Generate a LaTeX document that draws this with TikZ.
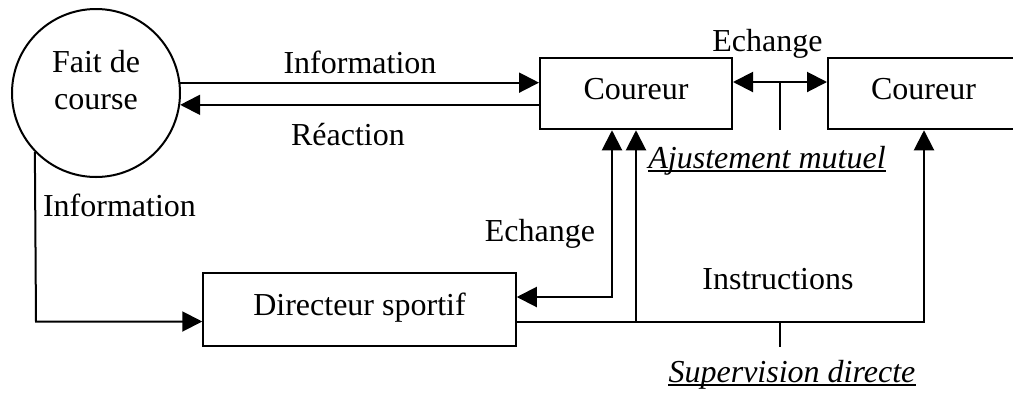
\documentclass[tikz,border=0pt]{standalone}
\usepackage{fontspec}
\setmainfont{Liberation Serif}
\usetikzlibrary{arrows.meta}
\tikzset{
  every node/.style={font=\fontsize{32}{37}\selectfont},
  ln/.style={line width=2pt},
  arr/.style={ln,-{Triangle[length=20pt,width=20pt]}},
  arrs/.style={ln,{Triangle[length=20pt,width=20pt]}-{Triangle[length=20pt,width=20pt]}},
  boxn/.style={draw,ln,rectangle,inner sep=0pt,text height=22pt,text depth=11pt},
  txt/.style={anchor=base,inner sep=0pt},
  ul/.style={line width=1.8pt}
}
\begin{document}
\begin{tikzpicture}[x=1pt,y=-1pt]
\useasboundingbox (0,0) rectangle (1013,392);
\clip (0,0) rectangle (1013,392);
% nodes
\node[draw,ln,circle,minimum size=168pt,inner sep=0pt] (fait) at (96,93) {};
\node[txt] (fait1) at (96,72) {Fait de};
\node[txt] (fait2) at (96,109) {course};
\node[boxn,minimum width=192pt,minimum height=71.5pt] (c1) at (636,93.5) {Coureur};
\node[boxn,minimum width=191pt,minimum height=71.5pt] (c2) at (923.5,93.5) {Coureur};
\node[boxn,minimum width=312.5pt,minimum height=72.5pt] (dir) at (359.5,309.5) {Directeur sportif};
% coordinates
\coordinate (e1) at (780,82);
\coordinate (m1) at (612,297);
\coordinate (s1) at (636,321.5);
\coordinate (s2) at (924,321.5);
\coordinate (t1) at (780,321.5);
\coordinate (t2) at (780,347);
\coordinate (l1) at (36,321.5);
% connectors
\draw[arr] (fait.7.5) -- (fait.7.5 -| c1.west);
\draw[arr] (c1.west |- fait.-8.9) -- (fait.-8.9);
\draw[arrs] (c1.east |- e1) -- (c2.west |- e1);
\draw[ln] (e1) -- (e1 |- c1.south);
\draw[arrs] (dir.east |- m1) -- (m1) -- (m1 |- c1.south);
\draw[arr] (dir.east |- s1) -- (s2) -- (s2 |- c2.south);
\draw[arr] (s1) -- (s1 |- c1.south);
\draw[ln] (t1) -- (t2);
\draw[arr] (fait.224.5) -- (l1) -- (l1 -| dir.west);
% labels
\node[txt] (linfo) at (360,73) {Information};
\node[txt] (lreac) at (348,145) {Réaction};
\node[txt] (lech1) at (767.5,51) {Echange};
\node[txt] (laj) at (767,168) {\itshape Ajustement mutuel};
\node[txt] (linfo2) at (119.5,216.5) {Information};
\node[txt] (lech2) at (540,241) {Echange};
\node[txt] (linst) at (778,289) {Instructions};
\node[txt] (lsup) at (792,382) {\itshape Supervision directe};
\draw[ul] ([yshift=-3pt]laj.base west) -- ([yshift=-3pt]laj.base east);
\draw[ul] ([yshift=-3pt]lsup.base west) -- ([yshift=-3pt]lsup.base east);
\end{tikzpicture}
\end{document}
